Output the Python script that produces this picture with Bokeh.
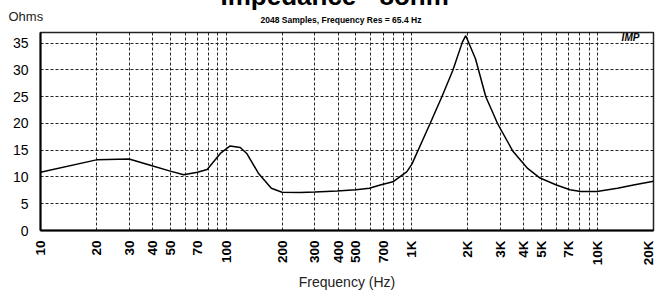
import math
from bokeh.plotting import figure
from bokeh.models import FixedTicker, Label, Range1d, Title
from bokeh.embed import file_html
from bokeh.resources import INLINE

# ---- data ----
freq_hz = [10, 20, 30, 39, 50, 59, 70, 79, 93, 105, 119, 129, 149, 175, 200, 250,
           300, 395, 500, 590, 675, 790, 940, 1000, 1250, 1450, 1660, 1870, 1950,
           2200, 2500, 2900, 3500, 4200, 4900, 6000, 7100, 8100, 9900, 12800,
           15600, 20000]
impedance_ohm = [10.9, 13.2, 13.35, 12.2, 11.1, 10.4, 10.9, 11.4, 14.4, 15.8, 15.5,
                 14.4, 10.7, 7.9, 7.15, 7.1, 7.2, 7.4, 7.6, 7.9, 8.5, 9.1, 11.0, 12.4,
                 19.9, 25.0, 29.9, 35.2, 36.4, 32.1, 25.0, 19.9, 14.8, 11.6, 9.8, 8.5,
                 7.6, 7.3, 7.3, 7.9, 8.5, 9.2]

y_ticks = [0, 5, 10, 15, 20, 25, 30, 35]
x_label_ticks = [10, 20, 30, 40, 50, 70, 100, 200, 300, 400, 500, 700,
                 1000, 2000, 3000, 4000, 5000, 7000, 10000, 20000]
x_tick_labels = ["10", "20", "30", "40", "50", "70", "100", "200", "300", "400",
                 "500", "700", "1K", "2K", "3K", "4K", "5K", "7K", "10K", "20K"]
x_grid_ticks = ([10, 20, 30, 40, 50, 60, 70, 80, 90, 100] +
                [200, 300, 400, 500, 600, 700, 800, 900, 1000] +
                [2000, 3000, 4000, 5000, 6000, 7000, 8000, 9000, 10000, 20000])

title_text = "Impedance - 8ohm"
subtitle_text = "2048 Samples, Frequency Res = 65.4 Hz"
y_title = "Ohms"
x_title = "Frequency (Hz)"
logo_text = "IMP"

# ---- layout ----
SHIFT = 16                      # part of the canvas hidden above the page top
W, H = 655, 293 + SHIFT
LEFT, RIGHT, TOP, BOTTOM = 40, 2, 32 + SHIFT, 62
X0, X1 = 10, 20000
Y0, Y1 = 0, 37
FONT = "Liberation Sans"

p = figure(width=W, height=H, x_axis_type="log",
           x_range=Range1d(X0, X1), y_range=Range1d(Y0, Y1),
           output_backend="svg", toolbar_location=None,
           min_border_left=LEFT, min_border_right=RIGHT,
           min_border_top=TOP, min_border_bottom=BOTTOM)
p.styles = {"margin-top": f"-{SHIFT}px"}
p.background_fill_color = "white"
p.border_fill_color = "white"
p.outline_line_color = "#222222"
p.outline_line_width = 1.5

# titles: main title outermost; subtitle row nearest the frame, "Ohms" between
p.title.text = title_text
p.title.align = "left"
p.title.offset = 180
p.title.standoff = -10.6
p.title.text_font = FONT
p.title.text_font_style = "bold"
p.title.text_font_size = "26px"
p.title.text_color = "black"
p.add_layout(Title(text=subtitle_text, align="left", offset=220, standoff=15,
                   text_font=FONT, text_font_style="bold",
                   text_font_size="8.5px", text_color="black"), "above")
p.add_layout(Title(text=y_title, align="left", offset=-32, standoff=-37,
                   text_font=FONT, text_font_style="normal",
                   text_font_size="13px", text_color="#222222"), "above")

# axes
p.xaxis.ticker = FixedTicker(ticks=x_label_ticks)
p.xaxis.major_label_overrides = dict(zip(x_label_ticks, x_tick_labels))
p.xaxis.major_label_orientation = math.pi / 2
p.xaxis.major_label_text_font = FONT
p.xaxis.major_label_text_font_style = "bold"
p.xaxis.major_label_text_font_size = "13.5px"
p.xaxis.major_label_text_color = "black"
p.xaxis.major_label_standoff = 10
p.xaxis.axis_label = x_title
p.xaxis.axis_label_text_font = FONT
p.xaxis.axis_label_text_font_style = "normal"
p.xaxis.axis_label_text_font_size = "14px"
p.xaxis.axis_label_text_color = "#222222"
p.xaxis.axis_label_standoff = 6

p.yaxis.ticker = FixedTicker(ticks=y_ticks)
p.yaxis.major_label_text_font = FONT
p.yaxis.major_label_text_font_size = "14px"
p.yaxis.major_label_text_color = "black"
p.yaxis.major_label_standoff = 12

for ax in (p.xaxis, p.yaxis):
    ax.axis_line_width = 2
    ax.axis_line_color = "black"
    ax.major_tick_in = 0
    ax.major_tick_out = 0
    ax.minor_tick_in = 0
    ax.minor_tick_out = 0

# grid
p.xgrid.ticker = FixedTicker(ticks=x_grid_ticks)
p.ygrid.ticker = FixedTicker(ticks=y_ticks)
for g in (p.xgrid, p.ygrid):
    g.grid_line_color = "black"
    g.grid_line_dash = "3 2"
    g.grid_line_width = 1
    g.grid_line_alpha = 0.85

# curve
p.line(freq_hz, impedance_ohm, line_color="black", line_width=1.5)

# logo inside the frame, top right
frame_w = W - LEFT - RIGHT
frame_h = H - TOP - BOTTOM


def fx(px):
    return X0 * 10 ** ((px - LEFT) / frame_w * math.log10(X1 / X0))


def fy(py):
    return Y0 + (H - BOTTOM - py) / frame_h * (Y1 - Y0)


p.add_layout(Label(x=fx(630), y=fy(TOP + 5), text=logo_text, text_align="center",
                   text_baseline="middle", text_font=FONT,
                   text_font_style="bold italic", text_font_size="10px",
                   text_color="black"))

open("out.html", "w").write(file_html(p, INLINE))
